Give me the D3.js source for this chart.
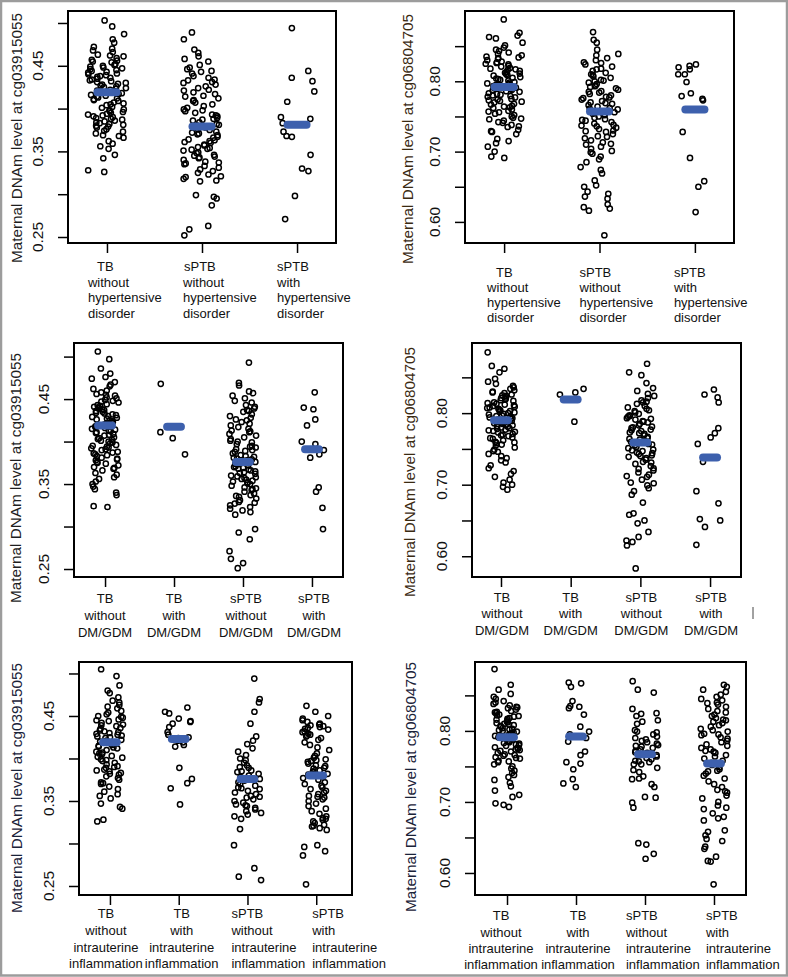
<!DOCTYPE html>
<html>
<head>
<meta charset="utf-8">
<script src="https://cdn.jsdelivr.net/npm/d3@7"></script>
<style>
  body { margin: 0; background: #fff; }
  text { font-family: "Liberation Sans", Arial, sans-serif; }
</style>
</head>
<body>
<div id="chart"></div>
<script>
////////////////////////////////////////////////////////////
//////////////////////// Data //////////////////////////////
////////////////////////////////////////////////////////////

// category labels (one array of lines per group)
const catHyper = [
  ["TB", "without", "hypertensive", "disorder"],
  ["sPTB", "without", "hypertensive", "disorder"],
  ["sPTB", "with", "hypertensive", "disorder"]
];
const catDM = [
  ["TB", "without", "DM/GDM"],
  ["TB", "with", "DM/GDM"],
  ["sPTB", "without", "DM/GDM"],
  ["sPTB", "with", "DM/GDM"]
];
const catInfl = [
  ["TB", "without", "intrauterine", "inflammation"],
  ["TB", "with", "intrauterine", "inflammation"],
  ["sPTB", "without", "intrauterine", "inflammation"],
  ["sPTB", "with", "intrauterine", "inflammation"]
];

// y ticks
const ticks039 = [0.25, 0.30, 0.35, 0.40, 0.45, 0.50];
const tickLabels039 = [0.25, 0.35, 0.45];
const ticks068 = [0.60, 0.65, 0.70, 0.75, 0.80, 0.85];
const tickLabels068 = [0.60, 0.70, 0.80];

const yTitle039 = "Maternal DNAm level at cg03915055";
const yTitle068 = "Maternal DNAm level at cg06804705";

// ---- cg03915055, hypertensive disorder
const h039_TB = [0.503,0.496,0.487,0.481,0.477,0.472,0.470,0.466,0.468,0.461,0.463,0.457,0.459,0.455,0.452,0.454,0.449,0.451,0.447,0.445,0.448,0.443,0.441,0.446,0.438,0.440,0.436,0.442,0.433,0.435,0.431,0.437,0.428,0.430,0.426,0.432,0.424,0.427,0.421,0.425,0.419,0.422,0.416,0.420,0.414,0.417,0.411,0.415,0.409,0.412,0.406,0.410,0.404,0.401,0.407,0.398,0.402,0.396,0.399,0.394,0.397,0.391,0.395,0.389,0.393,0.387,0.390,0.385,0.388,0.383,0.386,0.380,0.384,0.378,0.381,0.376,0.373,0.379,0.371,0.368,0.374,0.366,0.362,0.359,0.356,0.353,0.346,0.342,0.328,0.326,0.444,0.439,0.434,0.429,0.423,0.418,0.413,0.450,0.456,0.462,0.405,0.392,0.382,0.369];
const h039_sPTBwo = [0.489,0.481,0.469,0.465,0.461,0.458,0.455,0.451,0.448,0.446,0.443,0.441,0.438,0.436,0.433,0.431,0.428,0.426,0.424,0.421,0.419,0.417,0.414,0.412,0.410,0.407,0.405,0.403,0.401,0.399,0.397,0.395,0.393,0.391,0.389,0.387,0.386,0.384,0.382,0.381,0.379,0.378,0.376,0.375,0.373,0.372,0.370,0.369,0.367,0.366,0.364,0.363,0.361,0.360,0.358,0.357,0.355,0.354,0.352,0.351,0.349,0.348,0.346,0.345,0.343,0.342,0.340,0.338,0.337,0.335,0.333,0.331,0.329,0.327,0.325,0.323,0.321,0.318,0.316,0.315,0.299,0.297,0.295,0.287,0.263,0.259,0.252,0.444,0.434,0.422,0.409,0.398,0.388,0.380,0.371,0.362,0.353,0.344,0.336,0.320,0.430,0.415,0.392];
const h039_sPTBw = [0.494,0.444,0.436,0.432,0.420,0.408,0.390,0.388,0.383,0.373,0.368,0.367,0.346,0.330,0.327,0.298,0.271];
const h039_means = [0.419, 0.379, 0.381];

// ---- cg06804705, hypertensive disorder
const h068_TB = [0.888,0.869,0.865,0.863,0.861,0.855,0.851,0.848,0.845,0.843,0.841,0.839,0.837,0.835,0.833,0.832,0.830,0.828,0.827,0.825,0.824,0.822,0.821,0.819,0.818,0.816,0.815,0.813,0.812,0.810,0.809,0.808,0.806,0.805,0.803,0.802,0.801,0.799,0.798,0.797,0.795,0.794,0.793,0.791,0.790,0.789,0.787,0.786,0.785,0.783,0.782,0.781,0.779,0.778,0.777,0.775,0.774,0.773,0.771,0.770,0.768,0.767,0.765,0.764,0.762,0.760,0.758,0.756,0.754,0.752,0.750,0.748,0.746,0.744,0.741,0.738,0.735,0.731,0.728,0.725,0.718,0.715,0.712,0.707,0.700,0.693,0.691,0.834,0.826,0.817,0.811,0.804,0.796,0.788,0.780,0.772,0.763,0.757,0.747,0.742,0.736,0.729];
const h068_sPTBwo = [0.870,0.859,0.855,0.845,0.839,0.837,0.833,0.830,0.827,0.824,0.821,0.818,0.815,0.812,0.810,0.807,0.805,0.802,0.800,0.798,0.796,0.794,0.792,0.790,0.788,0.786,0.784,0.782,0.780,0.778,0.776,0.774,0.772,0.770,0.768,0.766,0.764,0.762,0.760,0.758,0.756,0.754,0.752,0.750,0.748,0.746,0.744,0.742,0.740,0.738,0.736,0.734,0.732,0.730,0.728,0.725,0.722,0.719,0.716,0.713,0.710,0.707,0.704,0.701,0.697,0.693,0.689,0.685,0.678,0.674,0.669,0.659,0.652,0.650,0.643,0.640,0.636,0.633,0.625,0.621,0.619,0.616,0.581,0.826,0.817,0.809,0.801,0.793,0.785,0.777,0.769,0.761,0.753,0.745,0.737,0.729,0.721,0.711,0.699];
const h068_sPTBw = [0.822,0.817,0.820,0.824,0.810,0.810,0.799,0.783,0.779,0.775,0.773,0.728,0.691,0.658,0.650,0.614];
const h068_means = [0.792, 0.757, 0.760];

// ---- cg03915055, DM/GDM
const d039_TBwo = [0.506,0.497,0.486,0.480,0.476,0.474,0.470,0.467,0.465,0.462,0.460,0.458,0.456,0.454,0.452,0.451,0.449,0.447,0.446,0.444,0.443,0.441,0.440,0.438,0.437,0.435,0.434,0.432,0.431,0.430,0.428,0.427,0.426,0.424,0.423,0.422,0.420,0.419,0.418,0.416,0.415,0.414,0.412,0.411,0.410,0.408,0.407,0.405,0.404,0.402,0.401,0.399,0.398,0.396,0.395,0.393,0.391,0.390,0.388,0.386,0.385,0.383,0.381,0.380,0.378,0.376,0.374,0.372,0.370,0.368,0.366,0.363,0.361,0.358,0.356,0.353,0.350,0.347,0.344,0.340,0.337,0.324,0.323,0.448,0.439,0.433,0.425,0.417,0.409,0.400,0.392,0.384,0.375,0.442,0.429,0.421,0.413,0.403,0.394,0.387,0.379,0.369,0.455,0.436];
const d039_TBw = [0.468,0.411,0.404,0.385];
const d039_sPTBwo = [0.493,0.469,0.466,0.459,0.457,0.454,0.451,0.448,0.446,0.443,0.441,0.439,0.437,0.435,0.432,0.430,0.428,0.426,0.423,0.421,0.419,0.417,0.415,0.413,0.411,0.409,0.407,0.405,0.403,0.401,0.399,0.397,0.395,0.393,0.391,0.389,0.388,0.386,0.384,0.383,0.381,0.380,0.378,0.377,0.375,0.374,0.372,0.371,0.369,0.368,0.366,0.365,0.363,0.362,0.360,0.359,0.357,0.356,0.354,0.353,0.351,0.350,0.348,0.346,0.345,0.343,0.341,0.339,0.337,0.335,0.333,0.331,0.329,0.327,0.325,0.323,0.321,0.319,0.317,0.314,0.297,0.293,0.285,0.271,0.262,0.257,0.251,0.436,0.425,0.412,0.400,0.390,0.382,0.376,0.370,0.364,0.358,0.352,0.344,0.336,0.328,0.394,0.379,0.367,0.355];
const d039_sPTBw = [0.458,0.440,0.438,0.426,0.419,0.400,0.397,0.390,0.385,0.381,0.346,0.341,0.322,0.297];
const d039_means = [0.419, 0.4175, 0.376, 0.391];

// ---- cg06804705, DM/GDM
const d068_TBwo = [0.885,0.866,0.862,0.857,0.848,0.844,0.841,0.838,0.836,0.834,0.832,0.830,0.828,0.826,0.824,0.822,0.820,0.819,0.817,0.815,0.814,0.812,0.811,0.809,0.808,0.806,0.805,0.803,0.802,0.800,0.799,0.797,0.796,0.794,0.793,0.791,0.790,0.788,0.787,0.785,0.784,0.782,0.781,0.779,0.778,0.776,0.775,0.773,0.771,0.770,0.768,0.766,0.764,0.762,0.760,0.758,0.755,0.752,0.749,0.746,0.743,0.740,0.737,0.734,0.731,0.727,0.723,0.719,0.715,0.711,0.707,0.703,0.700,0.697,0.693,0.829,0.818,0.810,0.801,0.792,0.783,0.774,0.765,0.756,0.747,0.821,0.813,0.804,0.795,0.786,0.777,0.769,0.759,0.825,0.807,0.798,0.789,0.780];
const d068_TBw = [0.834,0.829,0.826,0.788];
const d068_sPTBwo = [0.869,0.857,0.853,0.842,0.835,0.831,0.827,0.824,0.821,0.818,0.815,0.813,0.810,0.808,0.806,0.803,0.801,0.799,0.797,0.795,0.793,0.791,0.789,0.787,0.785,0.783,0.781,0.779,0.777,0.775,0.773,0.771,0.769,0.767,0.765,0.763,0.761,0.759,0.757,0.755,0.753,0.751,0.749,0.747,0.745,0.743,0.741,0.739,0.737,0.735,0.732,0.729,0.726,0.723,0.720,0.717,0.714,0.711,0.707,0.703,0.699,0.695,0.691,0.686,0.675,0.660,0.658,0.650,0.646,0.634,0.627,0.622,0.620,0.615,0.583,0.816,0.804,0.796,0.788,0.780,0.772,0.764,0.756,0.748,0.740,0.731,0.722,0.712,0.702,0.792,0.776,0.760,0.744];
const d068_sPTBw = [0.833,0.822,0.826,0.815,0.779,0.772,0.766,0.757,0.732,0.691,0.674,0.652,0.650,0.641,0.616];
const d068_means = [0.790, 0.819, 0.759, 0.738];

// ---- cg03915055, intrauterine inflammation
const i039_TBwo = [0.505,0.497,0.486,0.480,0.477,0.472,0.468,0.466,0.463,0.461,0.459,0.456,0.454,0.452,0.450,0.448,0.446,0.444,0.442,0.440,0.438,0.436,0.435,0.433,0.431,0.430,0.428,0.427,0.425,0.424,0.422,0.421,0.419,0.418,0.416,0.415,0.413,0.412,0.410,0.408,0.407,0.405,0.403,0.401,0.399,0.397,0.395,0.393,0.391,0.389,0.387,0.385,0.383,0.381,0.379,0.377,0.375,0.372,0.370,0.367,0.364,0.361,0.358,0.356,0.353,0.347,0.343,0.341,0.328,0.326,0.449,0.439,0.432,0.426,0.420,0.414,0.406,0.398,0.390,0.382,0.445,0.429,0.417,0.402,0.386,0.371];
const i039_TBw = [0.460,0.455,0.453,0.447,0.443,0.441,0.444,0.437,0.431,0.425,0.416,0.414,0.389,0.376,0.371,0.365,0.346,0.424,0.421,0.428,0.419];
const i039_sPTBwo = [0.494,0.470,0.466,0.455,0.441,0.426,0.421,0.417,0.412,0.408,0.404,0.398,0.395,0.392,0.389,0.386,0.384,0.382,0.380,0.378,0.376,0.374,0.372,0.370,0.368,0.366,0.364,0.362,0.360,0.358,0.356,0.354,0.352,0.350,0.348,0.346,0.344,0.342,0.340,0.338,0.336,0.334,0.332,0.329,0.317,0.298,0.271,0.261,0.257,0.385,0.375,0.365,0.355,0.345,0.400,0.390];
const i039_sPTBw = [0.462,0.455,0.450,0.447,0.445,0.443,0.441,0.440,0.438,0.437,0.435,0.434,0.432,0.431,0.429,0.428,0.426,0.424,0.422,0.419,0.416,0.413,0.410,0.406,0.403,0.401,0.399,0.397,0.396,0.394,0.392,0.391,0.389,0.388,0.386,0.384,0.382,0.381,0.379,0.377,0.375,0.372,0.370,0.368,0.366,0.364,0.362,0.360,0.358,0.356,0.354,0.352,0.350,0.347,0.344,0.341,0.338,0.335,0.332,0.330,0.328,0.326,0.324,0.322,0.320,0.318,0.316,0.298,0.296,0.291,0.286,0.252,0.436,0.427,0.398,0.385,0.355,0.329,0.321,0.439];
const i039_means = [0.419, 0.423, 0.376, 0.380];

// ---- cg06804705, intrauterine inflammation
const i068_TBwo = [0.887,0.865,0.858,0.852,0.848,0.845,0.842,0.840,0.838,0.836,0.834,0.832,0.830,0.828,0.826,0.825,0.823,0.821,0.820,0.818,0.816,0.815,0.813,0.812,0.810,0.809,0.807,0.806,0.804,0.803,0.801,0.800,0.798,0.797,0.795,0.794,0.792,0.791,0.789,0.788,0.786,0.785,0.783,0.782,0.780,0.779,0.777,0.776,0.774,0.773,0.771,0.769,0.767,0.765,0.763,0.761,0.758,0.756,0.753,0.750,0.747,0.744,0.741,0.738,0.735,0.731,0.727,0.722,0.716,0.710,0.707,0.698,0.696,0.693,0.833,0.822,0.811,0.802,0.793,0.784,0.775,0.766,0.757,0.827,0.817,0.808,0.799,0.790,0.781,0.772,0.762];
const i068_TBw = [0.868,0.867,0.862,0.842,0.835,0.834,0.832,0.823,0.806,0.799,0.785,0.771,0.766,0.756,0.754,0.746,0.732,0.726,0.721,0.795,0.790];
const i068_sPTBwo = [0.870,0.858,0.854,0.831,0.825,0.824,0.821,0.813,0.810,0.801,0.799,0.798,0.795,0.792,0.788,0.786,0.784,0.782,0.780,0.778,0.776,0.774,0.772,0.770,0.768,0.766,0.764,0.762,0.760,0.758,0.756,0.753,0.753,0.748,0.745,0.742,0.736,0.733,0.732,0.725,0.721,0.707,0.706,0.699,0.692,0.642,0.640,0.627,0.620,0.790,0.779,0.769,0.757,0.815];
const i068_sPTBw = [0.865,0.862,0.858,0.855,0.851,0.848,0.845,0.843,0.840,0.837,0.834,0.831,0.828,0.826,0.823,0.821,0.818,0.816,0.813,0.811,0.808,0.806,0.803,0.801,0.799,0.796,0.794,0.791,0.789,0.786,0.784,0.781,0.779,0.776,0.774,0.771,0.769,0.766,0.764,0.761,0.758,0.755,0.752,0.749,0.746,0.743,0.740,0.737,0.733,0.729,0.725,0.721,0.717,0.713,0.709,0.705,0.700,0.695,0.690,0.684,0.679,0.677,0.674,0.660,0.658,0.653,0.648,0.645,0.637,0.634,0.623,0.617,0.616,0.584,0.839,0.815,0.795,0.772,0.744,0.715,0.692];
const i068_means = [0.791, 0.792, 0.767, 0.754];

////////////////////////////////////////////////////////////
//////////////////////// Layout ////////////////////////////
////////////////////////////////////////////////////////////

const W = 788, H = 977;
const meanColor = "#3d60ad";
const fmt = d3.format(".2f");

// box = [left, top, right, bottom]; xd / yd = scale domains (R-style padded)
const panels = [
  { box: [68, 11, 336, 243], xd: [0.59, 3.41], yd: [0.243, 0.514],
    groups: [h039_TB, h039_sPTBwo, h039_sPTBw], means: h039_means,
    ticks: ticks039, tickLabels: tickLabels039, title: yTitle039, titleX: 22, titleY: 138, titleColor: "#1e1e1e",
    cats: catHyper, base: [271, 287, 302, 318],
    place: [{a: "start", dx: -19, first: 9}, {a: "start", dx: -19, first: 1}, {a: "start", dx: -20, first: 0}] },
  { box: [465, 11, 734, 243], xd: [0.59, 3.41], yd: [0.57, 0.90],
    groups: [h068_TB, h068_sPTBwo, h068_sPTBw], means: h068_means,
    ticks: ticks068, tickLabels: tickLabels068, title: yTitle068, titleX: 413, titleY: 139, titleColor: "#3a2a12",
    cats: catHyper, base: [277, 292, 307, 322],
    place: [{a: "start", dx: -17, first: 9}, {a: "start", dx: -20, first: 0}, {a: "start", dx: -21, first: 0}] },
  { box: [74, 343, 343, 577], xd: [0.55, 4.45], yd: [0.2406, 0.516],
    groups: [d039_TBwo, d039_TBw, d039_sPTBwo, d039_sPTBw], means: d039_means,
    ticks: ticks039, tickLabels: tickLabels039, title: yTitle039, titleX: 21, titleY: 478, titleColor: "#1e1e1e",
    cats: catDM, base: [603, 620, 637],
    place: [{a: "middle", dx: 0, first: 0}, {a: "middle", dx: 0, first: 0}, {a: "middle", dx: 3, first: 0}, {a: "middle", dx: 2, first: 0}] },
  { box: [472, 343, 741, 577], xd: [0.584, 4.444], yd: [0.571, 0.898],
    groups: [d068_TBwo, d068_TBw, d068_sPTBwo, d068_sPTBw], means: d068_means,
    ticks: ticks068, tickLabels: tickLabels068, title: yTitle068, titleX: 415, titleY: 472, titleColor: "#3a2a12",
    cats: catDM, base: [602, 618, 635],
    place: [{a: "middle", dx: 1, first: 0}, {a: "middle", dx: 0, first: 0}, {a: "middle", dx: 1, first: 0}, {a: "middle", dx: 1, first: 0}] },
  { box: [79, 662, 352, 895], xd: [0.55, 4.52], yd: [0.2394, 0.5135],
    groups: [i039_TBwo, i039_TBw, i039_sPTBwo, i039_sPTBw], means: i039_means,
    ticks: ticks039, tickLabels: tickLabels039, title: yTitle039, titleX: 22, titleY: 788, titleColor: "#1a2238",
    cats: catInfl, base: [918, 935, 952, 968],
    place: [{a: "middle", dx: -4, first: 0}, {a: "middle", dx: 3, first: 0}, {a: "start", dx: -16, first: 0}, {a: "start", dx: -4, first: 0}] },
  { box: [475, 662, 746, 895], xd: [0.536, 4.464], yd: [0.569, 0.897],
    groups: [i068_TBwo, i068_TBw, i068_sPTBwo, i068_sPTBw], means: i068_means,
    ticks: ticks068, tickLabels: tickLabels068, title: yTitle068, titleX: 416, titleY: 787, titleColor: "#1a2238",
    cats: catInfl, base: [920, 937, 953, 969],
    place: [{a: "middle", dx: -6, first: 0}, {a: "middle", dx: 2, first: 0}, {a: "start", dx: -19, first: 0}, {a: "start", dx: -8, first: 0}] }
];

// deterministic horizontal jitter in [-1, 1] (like R's jitter, but repeatable)
function jit(i, g, p) {
  const h = Math.sin((i + 1) * 12.9898 + (g + 1) * 78.233 + (p + 1) * 37.719) * 43758.5453;
  return (h - Math.floor(h)) * 2 - 1;
}

////////////////////////////////////////////////////////////
//////////////////////// Draw //////////////////////////////
////////////////////////////////////////////////////////////

const svg = d3.select("#chart").append("svg")
  .attr("width", W)
  .attr("height", H);

svg.append("rect")
  .attr("width", W).attr("height", H)
  .attr("fill", "#fff");

panels.forEach((p, pi) => {
  const [x0, y0, x1, y1] = p.box;
  const x = d3.scaleLinear().domain(p.xd).range([x0, x1]);
  const y = d3.scaleLinear().domain(p.yd).range([y1, y0]);
  const g = svg.append("g").attr("class", "panel");

  //Jittered points
  p.groups.forEach((vals, gi) => {
    g.append("g").selectAll("circle")
      .data(vals)
      .enter().append("circle")
      .attr("cx", (d, i) => x(gi + 1 + 0.2 * jit(i, gi, pi)))
      .attr("cy", d => y(d))
      .attr("r", 2.6)
      .style("fill", "none")
      .style("stroke", "#000")
      .style("stroke-width", 1.5);
  });

  //Mean segments
  g.append("g").selectAll("line")
    .data(p.means)
    .enter().append("line")
    .attr("x1", (d, i) => x(i + 1 - 0.1))
    .attr("x2", (d, i) => x(i + 1 + 0.1))
    .attr("y1", d => y(d))
    .attr("y2", d => y(d))
    .style("stroke", meanColor)
    .style("stroke-width", 8)
    .style("stroke-linecap", "round");

  //Plot box
  g.append("rect")
    .attr("x", x0).attr("y", y0)
    .attr("width", x1 - x0).attr("height", y1 - y0)
    .style("fill", "none")
    .style("stroke", "#000")
    .style("stroke-width", 2);

  //Axes (ticks only, box covers the domain line)
  const ya = g.append("g")
    .attr("transform", `translate(${x0},0)`)
    .call(d3.axisLeft(y).tickValues(p.ticks).tickSize(10).tickFormat(""));
  const xa = g.append("g")
    .attr("transform", `translate(0,${y1})`)
    .call(d3.axisBottom(x).tickValues(d3.range(1, p.groups.length + 1)).tickSize(10).tickFormat(""));
  [ya, xa].forEach(a => {
    a.select(".domain").remove();
    a.selectAll(".tick line").style("stroke", "#000").style("stroke-width", 1.5);
  });

  //Rotated y tick labels
  g.append("g").selectAll("text")
    .data(p.tickLabels)
    .enter().append("text")
    .attr("transform", d => `translate(${x0 - 25},${y(d)}) rotate(-90)`)
    .attr("text-anchor", "middle")
    .style("font-size", "15.5px")
    .style("fill", "#111")
    .text(d => fmt(d));

  //Y title
  g.append("text")
    .attr("transform", `translate(${p.titleX},${p.titleY}) rotate(-90)`)
    .attr("text-anchor", "middle")
    .style("font-size", "15.3px")
    .style("fill", p.titleColor)
    .text(p.title);

  //Category labels
  p.cats.forEach((lines, gi) => {
    const pl = p.place[gi];
    const t = g.append("text")
      .attr("text-anchor", pl.a)
      .style("font-size", "13px")
      .style("fill", "#111");
    lines.forEach((ln, li) => {
      t.append("tspan")
        .attr("x", x(gi + 1) + pl.dx + (li === 0 ? pl.first : 0))
        .attr("y", p.base[li])
        .text(ln);
    });
  });
});

//Stray tick mark right of the DM/GDM panel
svg.append("line")
  .attr("x1", 753).attr("x2", 753)
  .attr("y1", 607).attr("y2", 619)
  .style("stroke", "#444").style("stroke-width", 1);

//Outer frame
svg.append("rect")
  .attr("x", 1).attr("y", 1)
  .attr("width", W - 2).attr("height", H - 2.5)
  .style("fill", "none")
  .style("stroke", "#9c9c9c")
  .style("stroke-width", 2.5);
</script>
</body>
</html>
